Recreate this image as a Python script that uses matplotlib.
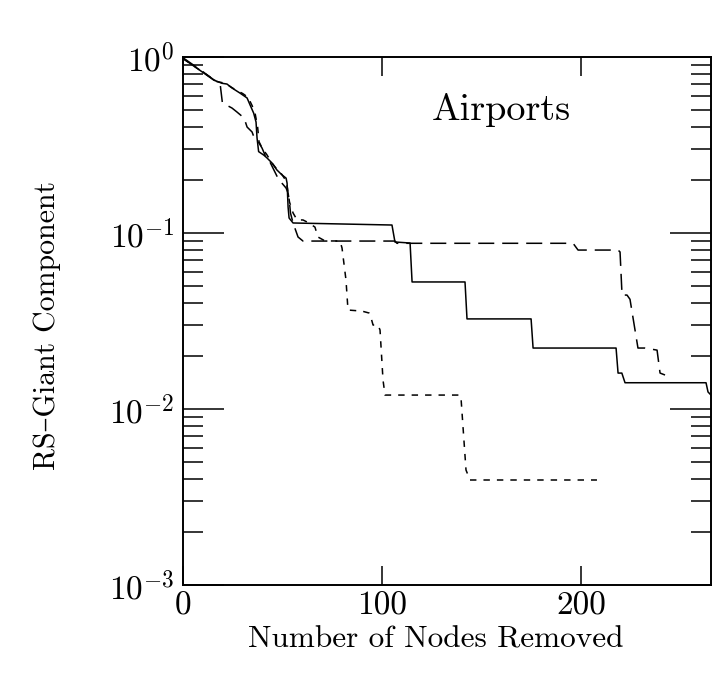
import matplotlib
matplotlib.use("Agg")
import matplotlib.pyplot as plt
from matplotlib.ticker import LogLocator, NullFormatter, FixedLocator

plt.rcParams['mathtext.fontset'] = 'cm'
plt.rcParams['font.family'] = ['cmr10', 'DejaVu Serif']
plt.rcParams['axes.formatter.use_mathtext'] = True

# ---- data ----
solid_x = [0, 9.5, 15.4, 19.6, 22.1, 24.6, 28.6, 32.2, 33.7, 35.5, 36.7, 37.2, 38.0, 40.6,
           42.2, 44.7, 47.2, 49.7, 51.8, 52.3, 52.8, 53.3, 55.3, 105.0, 106.5, 114.1, 115.1,
           141.7, 142.7, 174.9, 175.9, 217.6, 218.6, 220.5, 222.1, 262.8, 263.8, 265.3]
solid_y = [0.98, 0.825, 0.74, 0.709, 0.702, 0.667, 0.624, 0.585, 0.534, 0.48, 0.427, 0.347,
           0.29, 0.277, 0.267, 0.250, 0.228, 0.214, 0.205, 0.192, 0.1405, 0.1217, 0.114,
           0.111, 0.0889, 0.0877, 0.0527, 0.0527, 0.0325, 0.0325, 0.0222, 0.0222, 0.0160,
           0.0160, 0.0141, 0.0141, 0.0125, 0.0120]

long_x = [0, 9.5, 15.6, 18.6, 19.8, 24.6, 27.1, 30.7, 32.2, 34.7, 36.2, 38.2, 39.7, 41.2,
          43.7, 47.7, 49.7, 51.8, 52.8, 53.5, 54.0, 55.3, 57.8, 60.3, 106.5, 107.5, 196.0,
          198.5, 218.6, 219.6, 220.6, 223.1, 224.6, 228.6, 232.2, 238.2, 239.7, 242.2]
long_y = [0.99, 0.833, 0.740, 0.712, 0.548, 0.513, 0.487, 0.450, 0.400, 0.375, 0.3375,
          0.3245, 0.304, 0.2775, 0.253, 0.205, 0.192, 0.18, 0.1688, 0.15, 0.130, 0.114,
          0.0949, 0.090, 0.090, 0.0874, 0.0874, 0.080, 0.080, 0.078, 0.0444, 0.0444, 0.042,
          0.0222, 0.0222, 0.0216, 0.016, 0.0156]

short_x = [0, 10, 17, 21, 26, 30, 32.7, 34.7, 36.2, 37.5, 38.2, 40, 42, 44.7, 47.2, 49.7,
           51.5, 52.5, 53.5, 55.3, 57.3, 60.3, 63.3, 66.3, 67.8, 71.4, 78.9, 79.9, 81.9,
           82.9, 89.9, 93.5, 94.5, 95.5, 98.0, 99.0, 100.5, 101.5, 139.2, 139.7, 142.2,
           144.2, 208.0]
short_y = [0.98, 0.82, 0.725, 0.71, 0.655, 0.62, 0.59, 0.53, 0.48, 0.40, 0.33, 0.30, 0.28,
           0.25, 0.23, 0.215, 0.20, 0.18, 0.15, 0.130, 0.1186, 0.1186, 0.114, 0.108, 0.0949,
           0.0901, 0.0901, 0.0822, 0.054, 0.0365, 0.036, 0.0351, 0.0329, 0.030, 0.030,
           0.0281, 0.0146, 0.0120, 0.0120, 0.0115, 0.0045, 0.00395, 0.00395]

x_ticks = [0, 100, 200]
x_ticklabels = ['0', '100', '200']
y_ticks = [1e-3, 1e-2, 1e-1, 1e0]
y_ticklabels = [r'$10^{-3}$', r'$10^{-2}$', r'$10^{-1}$', r'$10^{0}$']

# ---- figure ----
fig = plt.figure(figsize=(7.24, 6.83), dpi=100, facecolor='white')

ax = fig.add_axes([183 / 724, 1 - 585 / 683, 528 / 724, 528 / 683])
ax.set_yscale('log')

lw = 1.1
ax.plot(solid_x, solid_y, color='black', lw=lw, ls='-')
ax.plot(long_x, long_y, color='black', lw=lw, dashes=(10.5, 5.2))
ax.plot(short_x, short_y, color='black', lw=lw, dashes=(4.2, 4.6))

ax.set_xlim(0, 265.3)
ax.set_ylim(1e-3, 1e0)

ax.xaxis.set_major_locator(FixedLocator(x_ticks))
ax.set_xticklabels(x_ticklabels)
ax.yaxis.set_major_locator(FixedLocator(y_ticks))
ax.set_yticklabels(y_ticklabels)
ax.yaxis.set_minor_locator(LogLocator(base=10, subs=[2, 3, 4, 5, 6, 7, 8, 9], numticks=20))
ax.yaxis.set_minor_formatter(NullFormatter())

ax.tick_params(axis='x', which='major', direction='in', length=14, width=1.1,
               top=True, bottom=True, labelsize=24, pad=5)
ax.tick_params(axis='y', which='major', direction='in', length=29.5, width=1.1,
               left=True, right=True, labelsize=24, pad=6)
ax.tick_params(axis='y', which='minor', direction='in', length=14.5, width=1.1,
               left=True, right=True)
for s in ax.spines.values():
    s.set_linewidth(1.4)

ax.set_xlabel('Number of Nodes Removed', fontsize=22.5, va='center')
ax.xaxis.set_label_coords(0.479, -0.104)
ax.set_ylabel('RS–Giant Component', fontsize=21.5, va='center')
ax.yaxis.set_label_coords(-0.2576, 0.492)

ax.text(0.602, 0.90, 'Airports', transform=ax.transAxes, ha='center', va='center',
        fontsize=27.5)

fig.savefig('out.png', dpi=100, facecolor='white')
